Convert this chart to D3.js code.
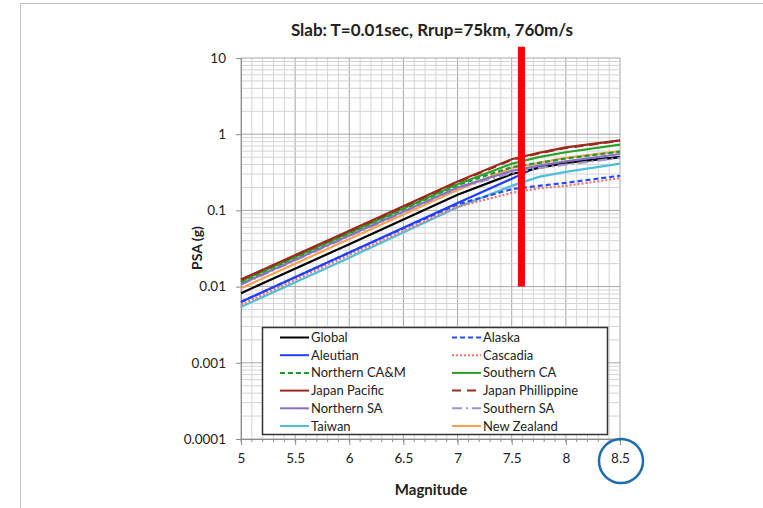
<!DOCTYPE html>
<html>
<head>
<meta charset="utf-8">
<script src="https://cdn.jsdelivr.net/npm/d3@7"></script>
<style>
  body { margin: 0; background: #fff; }
  text { font-family: Lato, "Open Sans", sans-serif; fill: #222; }
</style>
</head>
<body>
<svg id="svg" width="763" height="508"></svg>
<script>
const mags = [5, 6, 7, 7.5, 7.75, 8, 8.5];

const seriesNames = [
  "Global", "Alaska", "Aleutian", "Cascadia", "Northern CA&M", "Southern CA",
  "Japan Pacific", "Japan Phillippine", "Northern SA", "Southern SA", "Taiwan", "New Zealand"
];

// PSA (g) per series at the magnitudes above
const global      = [0.0082, 0.036, 0.16, 0.30, 0.36, 0.42, 0.50];
const alaska      = [0.0063, 0.028, 0.12, 0.19, 0.21, 0.23, 0.285];
const aleutian    = [0.0063, 0.028, 0.125, 0.26, 0.38, 0.43, 0.50];
const cascadia    = [0.0058, 0.026, 0.112, 0.17, 0.195, 0.21, 0.265];
const northernCAM = [0.0115, 0.050, 0.215, 0.37, 0.42, 0.48, 0.59];
const southernCA  = [0.0118, 0.051, 0.22, 0.41, 0.50, 0.58, 0.73];
const japanPac    = [0.0124, 0.054, 0.24, 0.47, 0.57, 0.67, 0.83];
const japanPhil   = [0.0123, 0.053, 0.235, 0.46, 0.56, 0.66, 0.82];
const northernSA  = [0.0108, 0.047, 0.20, 0.33, 0.387, 0.44, 0.55];
const southernSA  = [0.0106, 0.046, 0.195, 0.31, 0.36, 0.40, 0.49];
const taiwan      = [0.0054, 0.024, 0.11, 0.21, 0.275, 0.32, 0.41];
const newZealand  = [0.0095, 0.042, 0.185, 0.36, 0.42, 0.49, 0.60];

const xTicks = [5, 5.5, 6, 6.5, 7, 7.5, 8, 8.5];
const yTicks = [0.0001, 0.001, 0.01, 0.1, 1, 10];
const markerMag = 7.59;
const markerRange = [0.01, 14];

const styles = {
  "Global":            { color: "#000000", dash: null },
  "Alaska":            { color: "#2a4bff", dash: "5,3" },
  "Aleutian":          { color: "#1f3fff", dash: null },
  "Cascadia":          { color: "#ff6f6f", dash: "2,2" },
  "Northern CA&M":     { color: "#1f9a2a", dash: "5,3" },
  "Southern CA":       { color: "#2aa02a", dash: null },
  "Japan Pacific":     { color: "#9c2a1e", dash: null },
  "Japan Phillippine": { color: "#9c2a1e", dash: "9,6" },
  "Northern SA":       { color: "#8a70c0", dash: null },
  "Southern SA":       { color: "#a094c8", dash: "10,4,2,4" },
  "Taiwan":            { color: "#4dbfd6", dash: null },
  "New Zealand":       { color: "#f7a050", dash: null }
};

const values = [global, alaska, aleutian, cascadia, northernCAM, southernCA,
  japanPac, japanPhil, northernSA, southernSA, taiwan, newZealand];

const svg = d3.select("#svg");

const x = d3.scaleLinear().domain([5, 8.5]).range([241, 620]);
const y = d3.scaleLog().domain([0.0001, 10]).range([439, 58]);

// outer chart frame
svg.append("rect")
  .attr("x", 20.5).attr("y", 3.5)
  .attr("width", 800).attr("height", 600)
  .attr("fill", "none").attr("stroke", "#c4c4c4");

// grid
const grid = svg.append("g");
const minorX = d3.range(50, 86).map(d => d / 10);
grid.selectAll(".mx").data(minorX).join("line")
  .attr("x1", d => x(d)).attr("x2", d => x(d))
  .attr("y1", y(0.0001)).attr("y2", y(10))
  .attr("stroke", d => (Math.round(d * 10) % 5 === 0 ? "#a6a6a6" : "#d4d4d4"))
  .attr("stroke-width", 1);
const minorY = y.ticks();
grid.selectAll(".my").data(minorY).join("line")
  .attr("x1", x(5)).attr("x2", x(8.5))
  .attr("y1", d => y(d)).attr("y2", d => y(d))
  .attr("stroke", d => (yTicks.some(t => Math.abs(t - d) / t < 1e-6) ? "#a6a6a6" : "#d4d4d4"))
  .attr("stroke-width", 1);

// axes
const xAxis = svg.append("g")
  .attr("transform", `translate(0, ${y(0.0001)})`)
  .call(d3.axisBottom(x).tickValues(xTicks).tickSize(6).tickPadding(8).tickFormat(d3.format("")));
const yAxis = svg.append("g")
  .attr("transform", `translate(${x(5)}, 0)`)
  .call(d3.axisLeft(y).tickValues(yTicks).tickSize(5).tickPadding(10).tickFormat(d3.format("~g")));
[xAxis, yAxis].forEach(a => {
  a.select(".domain").attr("stroke", "#8c8c8c");
  a.selectAll(".tick line").attr("stroke", "#8c8c8c");
  a.selectAll(".tick text").style("font-size", "13.5px").attr("fill", "#222");
});
// minor x ticks
svg.append("g").selectAll("line").data(minorX).join("line")
  .attr("x1", d => x(d)).attr("x2", d => x(d))
  .attr("y1", y(0.0001)).attr("y2", y(0.0001) + 3)
  .attr("stroke", "#8c8c8c");

// series
const line = d3.line()
  .x((d, i) => x(mags[i]))
  .y(d => y(d));

const order = [10, 3, 1, 2, 0, 11, 9, 8, 4, 5, 7, 6];
svg.append("g").selectAll("path").data(order).join("path")
  .attr("d", i => line(values[i]))
  .attr("fill", "none")
  .attr("stroke", i => styles[seriesNames[i]].color)
  .attr("stroke-dasharray", i => styles[seriesNames[i]].dash)
  .attr("stroke-width", 2.2);

// red marker bar
svg.append("line")
  .attr("x1", x(markerMag)).attr("x2", x(markerMag))
  .attr("y1", y(markerRange[1])).attr("y2", y(markerRange[0]))
  .attr("stroke", "#ff0000").attr("stroke-width", 7);

// legend
const legend = svg.append("g");
legend.append("rect")
  .attr("x", 262.5).attr("y", 327.5).attr("width", 345).attr("height", 107)
  .attr("fill", "#fff").attr("stroke", "#333").attr("stroke-width", 1.5);
const legendOrder = [
  ["Global", "Alaska"], ["Aleutian", "Cascadia"], ["Northern CA&M", "Southern CA"],
  ["Japan Pacific", "Japan Phillippine"], ["Northern SA", "Southern SA"], ["Taiwan", "New Zealand"]
];
const colX = [280, 452];
legendOrder.forEach((row, r) => {
  row.forEach((name, c) => {
    const yy = 337.5 + r * 17.7;
    legend.append("line")
      .attr("x1", colX[c]).attr("x2", colX[c] + 29)
      .attr("y1", yy).attr("y2", yy)
      .attr("stroke", styles[name].color)
      .attr("stroke-dasharray", styles[name].dash)
      .attr("stroke-width", 2);
    legend.append("text")
      .attr("x", colX[c] + 31).attr("y", yy + 4.5)
      .style("font-size", "13px")
      .text(name);
  });
});

// titles
svg.append("text")
  .attr("x", 432).attr("y", 36)
  .attr("text-anchor", "middle")
  .style("font-size", "17px").style("font-weight", "bold")
  .text("Slab: T=0.01sec, Rrup=75km, 760m/s");
svg.append("text")
  .attr("x", 431).attr("y", 495)
  .attr("text-anchor", "middle")
  .style("font-size", "15px").style("font-weight", "bold")
  .text("Magnitude");
svg.append("text")
  .attr("transform", "translate(202, 248) rotate(-90)")
  .attr("text-anchor", "middle")
  .style("font-size", "14px").style("font-weight", "bold")
  .text("PSA (g)");

// highlight circle around last tick label
svg.append("circle")
  .attr("cx", x(8.5) + 1).attr("cy", 461).attr("r", 22)
  .attr("fill", "none").attr("stroke", "#1b6db4").attr("stroke-width", 2.5);
</script>
</body>
</html>
